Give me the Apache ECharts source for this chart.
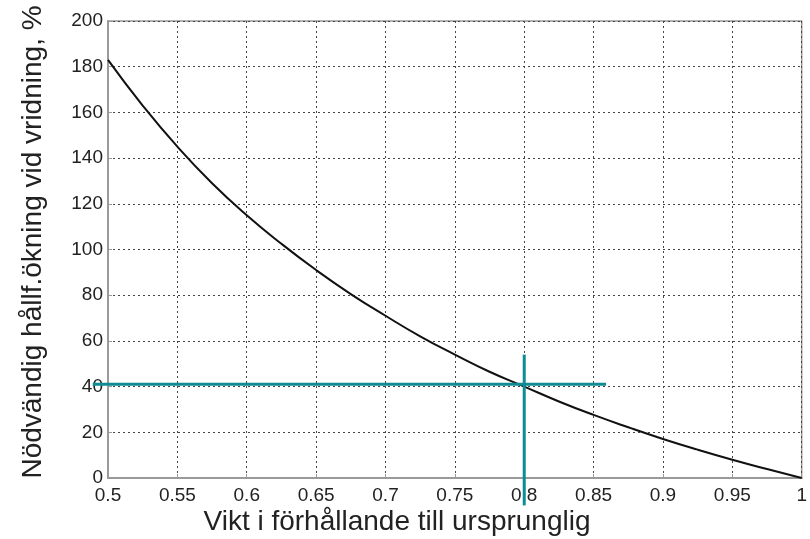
<!DOCTYPE html>
<html>
<head>
<meta charset="utf-8">
<script src="https://cdn.jsdelivr.net/npm/echarts@6/dist/echarts.min.js"></script>
<style>
html,body{margin:0;padding:0;background:#fff;}
#chart{width:810px;height:539px;}
</style>
</head>
<body>
<div id="chart"></div>
<script>
// Curve: x = weight ratio, y = required strength increase (%)
const xValues = [0.5, 0.525, 0.55, 0.575, 0.6, 0.625, 0.65, 0.675, 0.7, 0.725, 0.75, 0.775, 0.8, 0.825, 0.85, 0.875, 0.9, 0.925, 0.95, 0.975, 1.0];
const yValues = [183, 163, 145, 129, 115, 102.5, 91, 80.5, 71, 62, 54, 46.5, 40, 33.5, 27.6, 22.2, 17.1, 12.4, 8, 3.9, 0];

// Teal reading-guide lines: [x1, y1, x2, y2]
const guideH = [0.489, 41, 0.859, 41];
const guideV = [0.8, -12, 0.8, 54];

const xTicks = [0.5, 0.55, 0.6, 0.65, 0.7, 0.75, 0.8, 0.85, 0.9, 0.95, 1];
const yTicks = [0, 20, 40, 60, 80, 100, 120, 140, 160, 180, 200];

const xTitle = 'Vikt i förhållande till ursprunglig';
const yTitle = 'Nödvändig hållf.ökning vid vridning, %';

const zip = (a, b) => a.map((v, i) => [v, b[i]]);

const font = 'Liberation Sans, Arial, sans-serif';
const teal = '#0f8c93';

const chart = echarts.init(document.getElementById('chart'));
chart.setOption({
  animation: false,
  backgroundColor: '#fff',
  grid: { left: 108, right: 5, top: 21, bottom: 61, show: true, borderColor: '#9a9a9a', borderWidth: 1.5, containLabel: false },
  xAxis: {
    type: 'value', min: xTicks[0], max: xTicks[xTicks.length - 1], interval: 0.05,
    axisLine: { show: true, lineStyle: { color: '#9a9a9a', width: 2 } },
    axisTick: { show: true, inside: true, length: 4, lineStyle: { color: '#9a9a9a' } },
    axisLabel: { fontFamily: font, fontSize: 19, color: '#222', margin: 8, formatter: v => String(+v.toFixed(2)) },
    splitLine: { show: true, lineStyle: { color: '#444', width: 1, type: [2, 3] } }
  },
  yAxis: {
    type: 'value', min: yTicks[0], max: yTicks[yTicks.length - 1], interval: 20,
    axisLine: { show: true, lineStyle: { color: '#9a9a9a', width: 2 } },
    axisTick: { show: true, inside: true, length: 4, lineStyle: { color: '#9a9a9a' } },
    axisLabel: { fontFamily: font, fontSize: 19, color: '#222', margin: 5 },
    splitLine: { show: true, lineStyle: { color: '#444', width: 1, type: [2, 3] } }
  },
  graphic: [
    { type: 'text', x: 397, y: 522, style: { text: xTitle, font: '28px ' + font, fill: '#222', textAlign: 'center', textVerticalAlign: 'middle' } },
    { type: 'text', x: 33, y: 242, rotation: Math.PI / 2, style: { text: yTitle, font: '28px ' + font, fill: '#222', textAlign: 'center', textVerticalAlign: 'middle' } }
  ],
  series: [
    { type: 'line', data: zip(xValues, yValues), smooth: true, showSymbol: false, lineStyle: { color: '#111', width: 2 }, z: 3 },
    {
      type: 'custom', data: [guideH, guideV], clip: false, z: 4,
      encode: { x: [0, 2], y: [1, 3] },
      renderItem: (params, api) => {
        const p1 = api.coord([api.value(0), api.value(1)]);
        const p2 = api.coord([api.value(2), api.value(3)]);
        return { type: 'line', shape: { x1: p1[0], y1: p1[1], x2: p2[0], y2: p2[1] }, style: { stroke: teal, lineWidth: 3 } };
      }
    }
  ]
});
</script>
</body>
</html>
